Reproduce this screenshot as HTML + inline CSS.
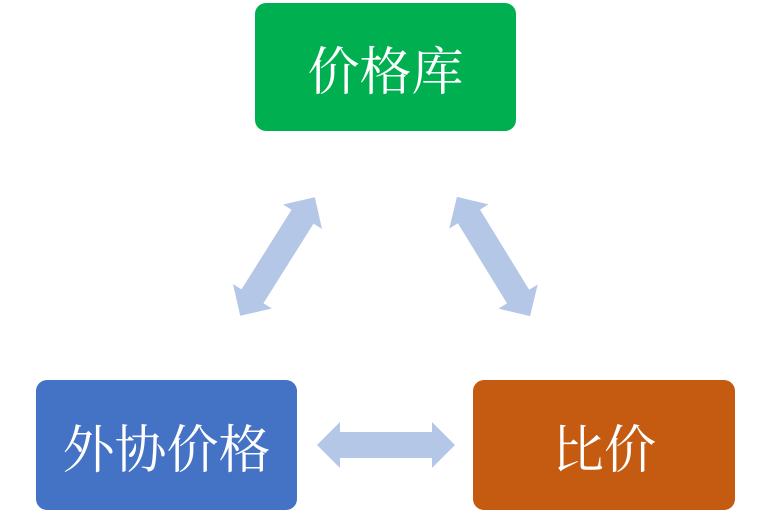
<!DOCTYPE html>
<html><head><meta charset="utf-8"><style>
body{margin:0;width:771px;height:513px;background:#fff;position:relative;overflow:hidden}
.b{position:absolute;border-radius:11px;color:#fff;display:flex;align-items:center;justify-content:center;font-family:"Liberation Serif","Noto Serif CJK SC",serif;font-size:52px}
</style></head><body>
<div class="b" style="left:255px;top:3px;width:261px;height:128px;background:#00b050">价格库</div>
<div class="b" style="left:36px;top:380px;width:261px;height:130px;background:#4472c4">外协价格</div>
<div class="b" style="left:473px;top:380px;width:262px;height:130px;background:#c55a11">比价</div>
<svg width="771" height="513" style="position:absolute;left:0;top:0">
<defs><polygon id="a" points="-70,0 -47,-23 -47,-13 47,-13 47,-23 70,0 47,23 47,13 -47,13 -47,23" fill="#b4c7e7"/></defs>
<polygon points="317,445 340,422 340,432 432,432 432,422 455,445 432,468 432,458 340,458 340,468" fill="#b4c7e7"/>
<use href="#a" transform="translate(277.5,256.5) rotate(-57.8)"/>
<use href="#a" transform="translate(493.5,256.5) rotate(58.5)"/>
</svg>
</body></html>
